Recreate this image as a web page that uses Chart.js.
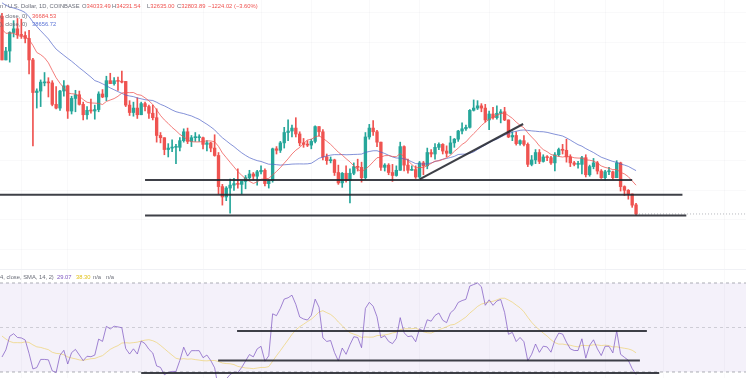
<!DOCTYPE html>
<html><head><meta charset="utf-8">
<script src="https://cdn.jsdelivr.net/npm/chart.js@4.4.1/dist/chart.umd.min.js"></script>
<style>
html,body{margin:0;padding:0;background:#fff;width:746px;height:378px;overflow:hidden;font-family:"Liberation Sans",Arial,sans-serif;}
#main{position:absolute;left:0;top:0;width:746px;height:270px;}
#rsi{position:absolute;left:0;top:270px;width:746px;height:108px;}
#sep{position:absolute;left:0;top:269px;width:746px;height:1px;background:#f0f1f5;}
.t{position:absolute;font-size:5.8px;line-height:8px;white-space:nowrap;color:#6a6d78;}
.r{color:#ef5350;} .b{color:#5b74d6;} .p{color:#7e57c2;} .y{color:#e2c21b;}
</style></head>
<body>
<div id="main"><canvas id="c1" width="746" height="270"></canvas></div>
<div id="sep"></div>
<div id="rsi"><canvas id="c2" width="746" height="108"></canvas></div>

<div class="t" style="left:0;top:2px">n / U.S. Dollar, 1D, COINBASE</div>
<div class="t" style="left:82px;top:2px">O<span class="r">34033.49</span></div>
<div class="t" style="left:112px;top:2px">H<span class="r">34231.54</span></div>
<div class="t" style="left:147px;top:2px">L<span class="r">32635.00</span></div>
<div class="t" style="left:177px;top:2px">C<span class="r">32803.89</span></div>
<div class="t r" style="left:208px;top:2px">−1224.02 (−3.60%)</div>
<div class="t" style="left:0;top:12px">(, close, 0)</div>
<div class="t r" style="left:32px;top:12px">36684.53</div>
<div class="t" style="left:0;top:20px">), close, 0)</div>
<div class="t b" style="left:32px;top:20px">38656.72</div>
<div class="t" style="left:0;top:273px">4, close, SMA, 14, 2)</div>
<div class="t p" style="left:57px;top:273px">29.07</div>
<div class="t y" style="left:76px;top:273px">38.30</div>
<div class="t" style="left:93px;top:273px">n/a</div>
<div class="t" style="left:106px;top:273px">n/a</div>

<script>
// ---------- DATA (BTC/USD, 1D) ----------
const dates = [
'2021-11-26','2021-11-27','2021-11-28','2021-11-29','2021-11-30',
'2021-12-01','2021-12-02','2021-12-03','2021-12-04','2021-12-05','2021-12-06','2021-12-07','2021-12-08','2021-12-09','2021-12-10','2021-12-11','2021-12-12','2021-12-13','2021-12-14','2021-12-15','2021-12-16','2021-12-17','2021-12-18','2021-12-19','2021-12-20','2021-12-21','2021-12-22','2021-12-23','2021-12-24','2021-12-25','2021-12-26','2021-12-27','2021-12-28','2021-12-29','2021-12-30','2021-12-31',
'2022-01-01','2022-01-02','2022-01-03','2022-01-04','2022-01-05','2022-01-06','2022-01-07','2022-01-08','2022-01-09','2022-01-10','2022-01-11','2022-01-12','2022-01-13','2022-01-14','2022-01-15','2022-01-16','2022-01-17','2022-01-18','2022-01-19','2022-01-20','2022-01-21','2022-01-22','2022-01-23','2022-01-24','2022-01-25','2022-01-26','2022-01-27','2022-01-28','2022-01-29','2022-01-30','2022-01-31',
'2022-02-01','2022-02-02','2022-02-03','2022-02-04','2022-02-05','2022-02-06','2022-02-07','2022-02-08','2022-02-09','2022-02-10','2022-02-11','2022-02-12','2022-02-13','2022-02-14','2022-02-15','2022-02-16','2022-02-17','2022-02-18','2022-02-19','2022-02-20','2022-02-21','2022-02-22','2022-02-23','2022-02-24','2022-02-25','2022-02-26','2022-02-27','2022-02-28',
'2022-03-01','2022-03-02','2022-03-03','2022-03-04','2022-03-05','2022-03-06','2022-03-07','2022-03-08','2022-03-09','2022-03-10','2022-03-11','2022-03-12','2022-03-13','2022-03-14','2022-03-15','2022-03-16','2022-03-17','2022-03-18','2022-03-19','2022-03-20','2022-03-21','2022-03-22','2022-03-23','2022-03-24','2022-03-25','2022-03-26','2022-03-27','2022-03-28','2022-03-29','2022-03-30','2022-03-31',
'2022-04-01','2022-04-02','2022-04-03','2022-04-04','2022-04-05','2022-04-06','2022-04-07','2022-04-08','2022-04-09','2022-04-10','2022-04-11','2022-04-12','2022-04-13','2022-04-14','2022-04-15','2022-04-16','2022-04-17','2022-04-18','2022-04-19','2022-04-20','2022-04-21','2022-04-22','2022-04-23','2022-04-24','2022-04-25','2022-04-26','2022-04-27','2022-04-28','2022-04-29','2022-04-30',
'2022-05-01','2022-05-02','2022-05-03','2022-05-04','2022-05-05','2022-05-06','2022-05-07','2022-05-08','2022-05-09'];

const openP = [
59500,53600,54800,57300,57800,
57000,56900,56500,53600,49200,49400,50500,50600,50500,47600,47100,49400,50100,46700,48400,48900,47600,46200,46800,46700,46900,49000,48600,50800,50400,50800,50700,50700,47500,46500,47100,
46200,47700,47300,46400,45800,43400,43100,41500,41700,41800,41800,42700,43900,42600,43100,43100,43100,42200,42400,41700,40700,36500,35100,36300,36700,36900,36800,37200,37700,38200,37900,
38500,38700,36900,37300,41600,41400,42400,43800,44000,44400,43600,42400,42200,42100,42600,44600,43900,40500,40000,40100,38400,37000,38300,37300,38300,39200,39100,37700,
43200,44400,43900,42500,39100,39400,38400,38000,38700,41900,39400,38700,38800,37800,39700,39300,41100,40900,41800,42200,41300,41000,42400,42900,44000,44300,44500,46800,47100,47400,47100,
45500,46300,45800,46400,46600,45500,43200,43400,42300,42700,42200,39500,40100,41100,39900,40500,40400,39700,40800,41500,41400,40500,39700,39500,39500,40400,38100,39200,39700,38600,
37700,38500,38500,37700,39700,36500,36000,35500,34033.49];

const highP = [
59900,55300,57400,58900,59200,
59100,57400,57600,53800,49700,50900,51900,51200,50800,50000,49500,50800,50200,48700,49500,49400,47900,47300,48300,47500,49300,49600,51400,51800,51200,51300,52100,50700,48100,47900,48500,
47900,47900,47500,47500,47000,43800,43100,42300,42800,42200,43100,44300,44400,43400,43800,43500,43200,42700,42500,43500,41100,36800,36500,37500,37600,38900,37200,38000,38700,38400,38700,
39300,38900,37400,41700,41900,42600,44500,45500,44800,45800,43900,43000,42700,42900,44700,44600,44200,40900,40500,40200,39400,38400,39300,38900,39700,40200,39800,43800,
44900,45400,44100,42500,39600,39600,39500,39300,42500,42000,40200,39300,39300,39900,39900,41700,41500,42300,42400,42300,42000,43300,43000,44100,45100,44800,46900,48200,48100,47700,47600,
46700,47200,47400,46900,47200,45500,43900,43900,42800,43400,42400,40700,41500,41500,40800,40700,40600,41100,41700,42200,42900,40800,39900,39900,40600,40800,39400,40300,39900,38800,
38700,39100,38600,40000,39800,36600,36100,35500,34231.54];

const lowP = [
53600,53600,53300,56700,56500,
56500,55900,51700,42000,47100,47300,50100,48600,47400,47000,46800,48700,45700,46300,46600,47500,45500,45600,46400,45600,46600,48500,48100,50400,50200,49500,50500,47300,46100,46000,45700,
46200,46700,45700,45500,42500,42400,40800,40500,41200,39600,41300,42500,42300,41900,42600,42600,41600,41300,41200,40600,35500,34000,34600,32900,36000,36300,35500,36200,37400,37400,36700,
38200,36600,36300,37100,40900,41100,41700,42700,43200,43200,42000,41800,41900,41600,42400,43300,40100,39500,39700,38000,36800,36400,37100,34300,38100,38600,37100,37500,
42900,43400,41900,38700,38600,38100,37200,37900,38700,38600,38300,38700,37600,37600,38100,38900,40500,40200,41500,40900,40500,40900,41800,42600,43600,44100,44400,46700,46900,46600,45200,
44200,45600,45600,45100,45400,43100,42700,42100,42100,42000,39200,39300,39600,39600,39800,40000,39500,38600,40600,40900,39800,39200,39300,39000,38200,37800,37900,38900,38200,37600,
37400,38100,37500,37700,35900,35300,34800,33700,32635];

const closeP = [
53600,54800,57300,57800,57000,
56900,56500,53600,49200,49400,50600,50600,50500,47600,47100,49400,50100,46700,48400,48900,47600,46200,46800,46700,46900,49000,48600,50800,50400,50800,50700,50600,47500,46500,47100,46200,
47700,47300,46400,45800,43400,43100,41500,41700,41800,41800,42700,43900,42600,43100,43100,43100,42200,42400,41700,40700,36500,35100,36300,36700,36900,36800,37200,37700,38200,37900,38500,
38700,36900,37300,41600,41400,42400,43800,44000,44400,43600,42400,42200,42100,42600,44600,43900,40500,40000,40100,38400,37000,38300,37300,38300,39200,39100,37700,43200,
44400,43900,42500,39100,39400,38400,38000,38700,41900,39400,38700,38800,37800,39700,39300,41100,40900,41800,42200,41300,41000,42400,42900,44000,44300,44500,46800,47100,47400,47100,45500,
46300,45800,46400,46600,45500,43200,43400,42300,42700,42200,39500,40100,41100,39900,40500,40400,39700,40800,41500,41400,40500,39700,39500,39500,40400,38100,39200,39700,38600,37700,
38500,38500,37700,39700,36500,36000,35500,34000,32803.89];

// closes before the first visible bar (Oct 1 - Nov 25, 2021), needed by the indicators
const preClose = [
48100,47700,48200,49200,51500,55300,53800,53900,55000,54700,57500,56000,57400,57400,61700,60900,61500,62000,64300,66000,62200,60700,61300,60900,63100,60300,58500,60600,62300,61900,61300,
61000,63200,62900,61400,61000,61500,63300,67500,66900,64900,64900,64200,64400,65500,63600,60100,60400,56900,58100,59800,58700,56300,57600,57200,58900];

// indicator settings shown in the legends
const smaFastLen = 10, smaSlowLen = 25, rsiLen = 14, rsiMaLen = 14;

// drawings (bar index, price / RSI value)
const levelFrom  = [37, -0.6, 37];
const levelTo    = [163, 176, 177];
const levelPrice = [37400, 35400, 32600];
const trendBars   = [108.1, 134.8];
const trendPrices = [37500, 44950];
const rsiLevelFrom  = [60.8, 55.9, 36];
const rsiLevelTo    = [166.8, 165, 170];
const rsiLevelValue = [48.4, 35.2, 29.6];
const rsiBands = [70, 50, 30];

// grid positions (bar index / price)
const gridBars = [5, 17, 36, 52, 67, 80, 95, 108, 126, 143, 156, 171, 187];
const priceGrid = [28000, 32000, 36000, 40000, 44000, 48000, 52000, 56000, 60000];

// ---------- view ----------
const xMin = -0.517, xMax = 192.44;
const yMin = 25240, yMax = 61690;
const rMin = 27.3, rMax = 75.84;
const UP = '#26a69a', DOWN = '#ef5350';
const DRAW = 'rgba(35,38,46,0.88)';
const GRID = 'rgba(42,46,57,0.028)';

// ---------- indicators from the closes ----------
const allClose = preClose.concat(closeP);
const P = preClose.length;
function sma(arr, n){
  return arr.map((v,i)=>{
    if (v === null || i < n-1) return null;
    let s = 0;
    for (let k=i-n+1;k<=i;k++){ if (arr[k]===null) return null; s += arr[k]; }
    return s/n;
  });
}
const smaFast = sma(allClose, smaFastLen).slice(P);
const smaSlow = sma(allClose, smaSlowLen).slice(P);
const rsiAll = [null];
let ag = 0, al = 0;
for (let i=1;i<allClose.length;i++){
  const d = allClose[i]-allClose[i-1];
  const g = Math.max(d,0), l = Math.max(-d,0);
  if (i <= rsiLen){
    ag += g/rsiLen; al += l/rsiLen;
    rsiAll.push(i===rsiLen ? 100-100/(1+ag/al) : null);
  } else {
    ag = (ag*(rsiLen-1)+g)/rsiLen; al = (al*(rsiLen-1)+l)/rsiLen;
    rsiAll.push(100-100/(1+ag/al));
  }
}
const rsiMaAll = sma(rsiAll, rsiMaLen);
const rsiVis = rsiAll.slice(P), rsiMaVis = rsiMaAll.slice(P);

const N = dates.length;
const idx = dates.map((_,i)=>i);
const candleColor = idx.map(i => closeP[i] >= openP[i] ? UP : DOWN);

function hiddenAxis(extra){
  return Object.assign({
    offset:false,
    grid:{color:GRID, drawTicks:false, offset:false, lineWidth:1},
    border:{display:false},
    ticks:{display:false}
  }, extra);
}

// ---------- main pane ----------
const mainSets = [];
levelPrice.forEach((p,k)=>mainSets.push({type:'line', data:[{x:levelFrom[k],y:p},{x:levelTo[k],y:p}],
  borderColor:DRAW, borderWidth:2, pointRadius:0, order:0}));
mainSets.push({type:'line', data:trendBars.map((b,k)=>({x:b,y:trendPrices[k]})),
  borderColor:DRAW, borderWidth:2, pointRadius:0, order:0});
mainSets.push({type:'line', data:idx.map(i=>({x:i,y:smaFast[i]})), borderColor:'rgba(239,83,80,0.75)',
  borderWidth:1, pointRadius:0, tension:0, order:1});
mainSets.push({type:'line', data:idx.map(i=>({x:i,y:smaSlow[i]})), borderColor:'rgba(80,100,200,0.7)',
  borderWidth:1, pointRadius:0, tension:0, order:1});
mainSets.push({type:'line', data:[{x:N-1,y:closeP[N-1]},{x:xMax,y:closeP[N-1]}], borderColor:'rgba(120,123,134,0.55)',
  borderWidth:1, borderDash:[1,2], pointRadius:0, order:2});
mainSets.push({type:'bar', data:idx.map(i=>({x:i,y:[openP[i],closeP[i]]})), backgroundColor:candleColor,
  barThickness:2.7, minBarLength:1, grouped:false, borderWidth:0, order:3});
mainSets.push({type:'bar', data:idx.map(i=>({x:i,y:[lowP[i],highP[i]]})), backgroundColor:candleColor,
  barThickness:1, minBarLength:1, grouped:false, borderWidth:0, order:4});

new Chart(document.getElementById('c1'), {
  type:'bar',
  data:{datasets:mainSets},
  options:{
    responsive:false, animation:false, devicePixelRatio:1,
    layout:{padding:0},
    plugins:{legend:{display:false}, tooltip:{enabled:false}},
    scales:{
      x: hiddenAxis({type:'linear', min:xMin, max:xMax,
        afterBuildTicks:s=>{s.ticks = gridBars.map(v=>({value:v}));},
        afterFit:s=>{s.height = 0;}}),
      y: hiddenAxis({type:'linear', min:yMin, max:yMax, beginAtZero:false,
        afterBuildTicks:s=>{s.ticks = priceGrid.map(v=>({value:v}));},
        afterFit:s=>{s.width = 0;}})
    }
  }
});

// ---------- RSI pane ----------
const rsiSets = [];
rsiLevelValue.forEach((v,k)=>rsiSets.push({data:[{x:rsiLevelFrom[k],y:v},{x:rsiLevelTo[k],y:v}],
  borderColor:DRAW, borderWidth:2, pointRadius:0, order:0}));
rsiSets.push({data:idx.map(i=>({x:i,y:rsiVis[i]})), borderColor:'rgba(126,87,194,0.72)',
  borderWidth:1, pointRadius:0, tension:0, order:1});
rsiSets.push({data:idx.map(i=>({x:i,y:rsiMaVis[i]})), borderColor:'rgba(236,205,90,0.6)',
  borderWidth:1, pointRadius:0, tension:0, order:2});
rsiSets.push({data:[{x:xMin,y:rsiBands[0]},{x:xMax,y:rsiBands[0]}], borderColor:'rgba(120,123,134,0.6)',
  borderWidth:1, borderDash:[3,3], pointRadius:0, fill:{value:rsiBands[2]},
  backgroundColor:'rgba(126,87,194,0.085)', order:5});
rsiSets.push({data:[{x:xMin,y:rsiBands[1]},{x:xMax,y:rsiBands[1]}], borderColor:'rgba(120,123,134,0.3)',
  borderWidth:1, borderDash:[3,3], pointRadius:0, order:4});
rsiSets.push({data:[{x:xMin,y:rsiBands[2]},{x:xMax,y:rsiBands[2]}], borderColor:'rgba(120,123,134,0.6)',
  borderWidth:1, borderDash:[3,3], pointRadius:0, order:4});

new Chart(document.getElementById('c2'), {
  type:'line',
  data:{datasets:rsiSets},
  options:{
    responsive:false, animation:false, devicePixelRatio:1,
    layout:{padding:0},
    plugins:{legend:{display:false}, tooltip:{enabled:false}},
    scales:{
      x: hiddenAxis({type:'linear', min:xMin, max:xMax,
        afterBuildTicks:s=>{s.ticks = gridBars.map(v=>({value:v}));},
        afterFit:s=>{s.height = 0;}}),
      y: hiddenAxis({type:'linear', min:rMin, max:rMax, grid:{display:false},
        afterFit:s=>{s.width = 0;}})
    }
  }
});
</script>
</body></html>
